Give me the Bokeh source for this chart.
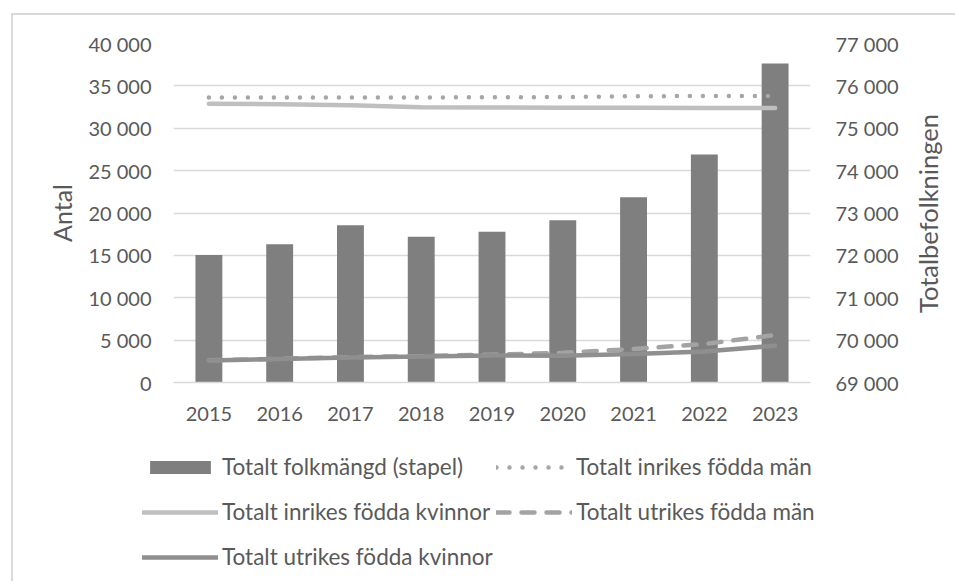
from bokeh.plotting import figure
from bokeh.layouts import column, row
from bokeh.models import (ColumnDataSource, Range1d, LinearAxis, FixedTicker,
                          Legend, LegendItem, FactorRange, Label)
from bokeh.embed import file_html
from bokeh.resources import INLINE

# ---------------- data ----------------
years = ["2015", "2016", "2017", "2018", "2019", "2020", "2021", "2022", "2023"]
totalt_folkmangd = [72010, 72260, 72710, 72440, 72560, 72830, 73370, 74380, 76530]
inrikes_fodda_man = [33620, 33620, 33620, 33640, 33650, 33680, 33780, 33800, 33800]
inrikes_fodda_kvinnor = [32900, 32830, 32720, 32480, 32450, 32430, 32420, 32400, 32400]
utrikes_fodda_man = [2620, 2800, 3000, 3120, 3280, 3500, 3950, 4540, 5600]
utrikes_fodda_kvinnor = [2600, 2760, 2950, 3070, 3190, 3160, 3360, 3660, 4340]

left_ticks = [0, 5000, 10000, 15000, 20000, 25000, 30000, 35000, 40000]
left_tick_labels = ["0", "5 000", "10 000", "15 000", "20 000", "25 000",
                    "30 000", "35 000", "40 000"]
right_ticks = [69000, 70000, 71000, 72000, 73000, 74000, 75000, 76000, 77000]
right_tick_labels = ["69 000", "70 000", "71 000", "72 000", "73 000",
                     "74 000", "75 000", "76 000", "77 000"]

left_title = "Antal"
right_title = "Totalbefolkningen"
label_bars = "Totalt folkmängd (stapel)"
label_inr_man = "Totalt inrikes födda män"
label_inr_kv = "Totalt inrikes födda kvinnor"
label_utr_man = "Totalt utrikes födda män"
label_utr_kv = "Totalt utrikes födda kvinnor"

# ---------------- style ----------------
FONT = "Lato"
TEXT = "#595959"
GRID = "#d9d9d9"
BAR_STYLE = dict(fill_color="#7f7f7f", line_color=None)
INR_MAN_STYLE = dict(line_color="#a6a6a6", line_width=4.5, line_dash="0 13", line_cap="round")
INR_KV_STYLE = dict(line_color="#bfbfbf", line_width=4.5, line_cap="round", line_join="round")
UTR_MAN_STYLE = dict(line_color="#a3a3a3", line_width=4.5, line_dash="13 12", line_cap="round")
UTR_KV_STYLE = dict(line_color="#8f8f8f", line_width=4.5, line_cap="round", line_join="round")

src = ColumnDataSource(dict(
    year=years,
    total=totalt_folkmangd,
    inr_man=inrikes_fodda_man,
    inr_kv=inrikes_fodda_kvinnor,
    utr_man=utrikes_fodda_man,
    utr_kv=utrikes_fodda_kvinnor,
))

W = 944
W_MAIN = 895
H_MAIN = 421
H_LEG = 147

p = figure(
    x_range=FactorRange(*years, range_padding=0),
    y_range=Range1d(left_ticks[0], left_ticks[-1]),
    width=W_MAIN, height=H_MAIN,
    output_backend="svg", toolbar_location=None,
    min_border_left=160, min_border_right=W_MAIN - 797,
    min_border_top=28, min_border_bottom=H_MAIN - 367,
    background_fill_color="white", border_fill_color="white",
)
p.frame_align = False
p.outline_line_color = None
p.extra_y_ranges = {"right": Range1d(right_ticks[0], right_ticks[-1])}

# grid
p.xgrid.visible = False
p.ygrid.ticker = FixedTicker(ticks=left_ticks)
p.ygrid.grid_line_color = GRID
p.ygrid.grid_line_width = 1.5

# left axis
ya = p.yaxis[0]
ya.ticker = FixedTicker(ticks=left_ticks)
ya.major_label_overrides = {t: l for t, l in zip(left_ticks, left_tick_labels)}
ya.axis_label = left_title

# right axis (its title is drawn in the narrow strip to the right)
ra = LinearAxis(y_range_name="right", ticker=FixedTicker(ticks=right_ticks))
ra.major_label_overrides = {t: l for t, l in zip(right_ticks, right_tick_labels)}
p.add_layout(ra, "right")

xa = p.xaxis[0]

for ax in (ya, ra, xa):
    ax.major_tick_line_color = None
    ax.minor_tick_line_color = None
    ax.major_tick_out = 0
    ax.major_tick_in = 0
    ax.major_label_text_font = FONT
    ax.major_label_text_font_size = "20px"
    ax.major_label_text_color = TEXT
    ax.axis_label_text_font = FONT
    ax.axis_label_text_font_size = "25px"
    ax.axis_label_text_font_style = "normal"
    ax.axis_label_text_color = TEXT

ya.axis_line_color = None
ra.axis_line_color = None
xa.axis_line_color = GRID
xa.axis_line_width = 1.5
ya.major_label_standoff = 22
ya.axis_label_standoff = 8
ra.major_label_standoff = 25
xa.major_label_standoff = 24

# ---------------- glyphs ----------------
bars = p.vbar(x="year", top="total", bottom=right_ticks[0], width=0.38,
              y_range_name="right", source=src, **BAR_STYLE)
r_inr_man = p.line(x="year", y="inr_man", source=src, **INR_MAN_STYLE)
r_inr_kv = p.line(x="year", y="inr_kv", source=src, **INR_KV_STYLE)
r_utr_man = p.line(x="year", y="utr_man", source=src, **UTR_MAN_STYLE)
r_utr_kv = p.line(x="year", y="utr_kv", source=src, **UTR_KV_STYLE)


def blank_strip(width, height, **kw):
    f = figure(width=width, height=height, output_backend="svg",
               toolbar_location=None, x_axis_type=None, y_axis_type=None,
               min_border=0, min_border_left=0, min_border_right=0,
               min_border_top=0, min_border_bottom=0,
               background_fill_color="white", border_fill_color="white", **kw)
    f.frame_align = False
    f.outline_line_color = None
    f.grid.visible = False
    return f


# ---------------- right axis title strip ----------------
rfig = blank_strip(W - W_MAIN, H_MAIN, x_range=Range1d(0, 1), y_range=Range1d(0, 1))
rfig.add_layout(Label(x=19, y=H_MAIN - 198, x_units="screen", y_units="screen",
                      text=right_title, angle=90, angle_units="deg",
                      text_align="center", text_baseline="middle",
                      text_font=FONT, text_font_size="25.5px", text_color=TEXT))

# ---------------- legend strip (separate figure below the chart) ----------------
q = blank_strip(W, H_LEG, x_range=FactorRange(*years), y_range=Range1d(0, 1))
q.extra_y_ranges = {"right": Range1d(right_ticks[0], right_ticks[-1])}
# same series as hidden renderers: they only feed the legend glyphs
lg_bars = q.vbar(x="year", top="total", bottom=right_ticks[0], width=0.38,
                 y_range_name="right", source=src, visible=False, **BAR_STYLE)
lg_inr_man = q.line(x="year", y="inr_man", source=src, visible=False, **INR_MAN_STYLE)
lg_inr_kv = q.line(x="year", y="inr_kv", source=src, visible=False, **INR_KV_STYLE)
lg_utr_man = q.line(x="year", y="utr_man", source=src, visible=False, **UTR_MAN_STYLE)
lg_utr_kv = q.line(x="year", y="utr_kv", source=src, visible=False, **UTR_KV_STYLE)

rows = [
    ([(label_bars, lg_bars), (label_inr_man, lg_inr_man)], 103),
    ([(label_inr_kv, lg_inr_kv), (label_utr_man, lg_utr_man)], 58),
    ([(label_utr_kv, lg_utr_kv)], 13),
]
for items, ypos in rows:
    leg = Legend(
        items=[LegendItem(label=l, renderers=[r]) for l, r in items],
        orientation="horizontal",
        location=(129, ypos),
        glyph_width=76, glyph_height=16, label_height=16,
        label_width=268, label_standoff=4, spacing=6,
        padding=0, margin=0,
        border_line_color=None, background_fill_alpha=0,
        inactive_fill_alpha=0,
        label_text_font=FONT, label_text_font_size="22.5px",
        label_text_color=TEXT,
    )
    q.add_layout(leg, "center")

layout = column(row(p, rfig, spacing=0), q, spacing=0)
# chart-area frame: only its left and top edges fall inside the picture
layout.styles = {"margin-left": "13px", "margin-top": "15px",
                 "box-shadow": "-2px -2px 0 0 #d9d9d9"}
open("out.html", "w").write(file_html(layout, INLINE))
